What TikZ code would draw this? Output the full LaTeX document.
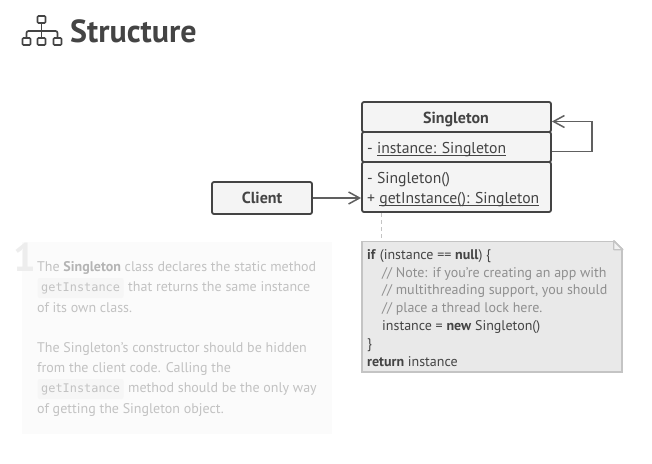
\documentclass[tikz,border=0pt]{standalone}
\usepackage{fontspec}
\setmainfont{PT Sans}
\setmonofont{DejaVu Sans Mono}
\usetikzlibrary{arrows.meta}
\newsavebox{\ulbox}
\newcommand{\ulabel}[1]{\sbox{\ulbox}{#1}\usebox{\ulbox}\hspace{-\wd\ulbox}\rule[-2.4pt]{\wd\ulbox}{0.9pt}}
\definecolor{ink}{HTML}{444444}
\definecolor{boxfill}{HTML}{F4F4F4}
\definecolor{notefill}{HTML}{E9E9E9}
\definecolor{noteline}{HTML}{C4C4C4}
\definecolor{faded}{HTML}{C2C2C2}
\definecolor{fadedbold}{HTML}{B4B4B4}
\definecolor{panelfill}{HTML}{FBFBFB}
\definecolor{chipfill}{HTML}{F6F6F6}
\definecolor{comment}{HTML}{8F8F8F}
\tikzset{
  classbox/.style={draw=ink, line width=1.8pt, fill=boxfill, rounded corners=2pt, inner sep=0pt, text=ink, font=\fontsize{16}{18}\selectfont},
  member/.style={anchor=base west, inner sep=0pt, text=ink, font=\fontsize{15.7}{18}\selectfont},
  assoc/.style={draw=ink!85, line width=1.9pt, -{Straight Barb[length=11pt,width=12pt,line width=1.5pt]}},
  paneltext/.style={anchor=base west, inner sep=0pt, text=faded, font=\fontsize{14}{17}\selectfont},
  chip/.style={anchor=base west, text=faded, fill=chipfill, rounded corners=2pt, text height=10pt, text depth=4pt, inner xsep=3.5pt, inner ysep=3pt, font=\ttfamily\fontsize{11.9}{15}\selectfont},
  iconbox/.style={draw=ink, line width=1.7pt, rounded corners=1pt, minimum width=8pt, minimum height=7pt, inner sep=0pt},
}
\begin{document}
\begin{tikzpicture}[x=1pt,y=-1pt]
  \useasboundingbox (0,0) rectangle (652,463);

  % heading
  \node[iconbox] (root) at (41.5,19.5) {};
  \node[iconbox] (leafa) at (26.5,41.5) {};
  \node[iconbox] (leafb) at (41.5,41.5) {};
  \node[iconbox] (leafc) at (57.5,41.5) {};
  \draw[ink, line width=1.7pt] (root) -- (leafb);
  \draw[ink, line width=1.7pt, rounded corners=2pt] (leafa) |- (root |- 0,31) -| (leafc);
  \node[anchor=west, inner sep=0pt, text=ink, font=\bfseries\fontsize{32}{36}\selectfont] (heading) at (70,31.5) {Structure};

  % class box
  \node[classbox, minimum width=189pt, minimum height=30pt] (title) at (456.5,117) {};
  \node[classbox, minimum width=189pt, minimum height=30pt] (attrs) at (456.5,147) {};
  \node[classbox, minimum width=189pt, minimum height=50pt] (methods) at (456.5,187) {};
  \node[anchor=base, inner sep=0pt, text=ink, font=\bfseries\fontsize{16}{18}\selectfont] (titletext) at (456,123) {Singleton};
  \node[member] (attra) at (367,153) {- \ulabel{instance: Singleton}};
  \node[member] (metha) at (367,183) {- Singleton()};
  \node[member] (methb) at (367,203) {+ \ulabel{getInstance(): Singleton}};

  % client
  \node[classbox, minimum width=100pt, minimum height=32pt, font=\bfseries\fontsize{16}{18}\selectfont] (client) at (262,198) {Client};
  \coordinate (target) at (methods.west |- client);
  \draw[assoc] (client) -- (target);
  \draw[assoc] ([yshift=-4.5pt]attrs.east) -- ++(40.5,0) |- ([yshift=-4.5pt]title.east);

  % note
  \node[draw=noteline, line width=1.6pt, fill=notefill, minimum width=260pt, minimum height=130.5pt, inner sep=0pt] (note) at (492,306.75) {};
  \fill[white] ([xshift=-9pt,yshift=1pt]note.north east) -- ([xshift=1pt,yshift=1pt]note.north east) -- ([xshift=1pt,yshift=-9pt]note.north east) -- cycle;
  \draw[noteline, fill=notefill!60!white, line width=1.2pt, line join=round] ([xshift=-9pt]note.north east) -- ([yshift=-9pt]note.north east) -- ([xshift=-9pt,yshift=-9pt]note.north east) -- cycle;
  \draw[noteline, line width=1.6pt] ([xshift=-9pt]note.north east) -- ([yshift=-9pt]note.north east);
  \coordinate (linkA) at (381.5,213);
  \coordinate (linkB) at (note.north -| linkA);
  \draw[noteline, line width=1.6pt, dash pattern=on 4pt off 3pt] (linkA) -- (linkB);
  \node[anchor=north west, align=left, inner sep=0pt, text=ink, font=\fontsize{14}{17.9}\selectfont] (code) at (367,249) {%
    \textbf{if} (instance == \textbf{null}) \{\\
    \hspace*{15pt}{\color{comment}// Note: if you’re creating an app with}\\
    \hspace*{15pt}{\color{comment}// multithreading support, you should}\\
    \hspace*{15pt}{\color{comment}// place a thread lock here.}\\
    \hspace*{15pt}instance = \textbf{new} Singleton()\\
    \}\\
    \textbf{return} instance};

  % faded text panel
  \node[fill=panelfill, minimum width=310pt, minimum height=192pt, inner sep=0pt] (panel) at (177,338) {};
  \node[anchor=base west, inner sep=0pt, text=black!7, font=\bfseries\fontsize{40}{40}\selectfont] (number) at (13,271) {1};
  \node[paneltext] (la) at (37,271) {The \textcolor{fadedbold}{\textbf{Singleton}} class declares the static method};
  \node[chip] (chipa) at (37.5,291) {getInstance};
  \node[paneltext] (lb) at (128,291) {that returns the same instance};
  \node[paneltext] (lc) at (37,312) {of its own class.};
  \node[paneltext] (ld) at (37,352) {The Singleton’s constructor should be hidden};
  \node[paneltext] (le) at (37,372) {from the client code. Calling the};
  \node[chip] (chipb) at (37.5,392) {getInstance};
  \node[paneltext] (lf) at (128,392) {method should be the only way};
  \node[paneltext] (lg) at (37,413) {of getting the Singleton object.};
\end{tikzpicture}
\end{document}
